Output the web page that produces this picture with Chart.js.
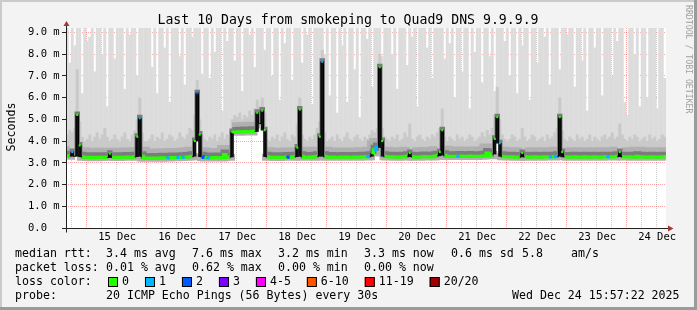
<!DOCTYPE html>
<html>
<head>
<meta charset="utf-8">
<title>Last 10 Days from smokeping to Quad9 DNS 9.9.9.9</title>
<script src="https://cdn.jsdelivr.net/npm/chart.js@4.4.1/dist/chart.umd.min.js"></script>
<style>
  html, body { margin: 0; padding: 0; background: #f3f3f3; }
</style>
</head>
<body>
<canvas id="smoke-chart" width="697" height="310"></canvas>
<script>
// one column per hour, graph starts Wed Dec 14 15:57:22 (10 days back)
const titleText = 'Last 10 Days from smokeping to Quad9 DNS 9.9.9.9';
const dayLabels = ['15 Dec', '16 Dec', '17 Dec', '18 Dec', '19 Dec', '20 Dec', '21 Dec', '22 Dec', '23 Dec', '24 Dec'];
const firstMidnight = 8 + 2 / 60 + 38 / 3600; // hours from graph start to 15 Dec 00:00

// median rtt in ms
const medianRtt = [
  3.3, 3.32, 3.5, 3.3, 5.2, 3.8, 3.28, 3.26,
  3.25, 3.24, 3.25, 3.23, 3.24, 3.25, 3.26, 3.25, 3.24, 3.42, 3.26, 3.25, 3.24, 3.25, 3.26, 3.25, 3.27, 3.26, 3.25, 3.28, 4.2, 5.05, 3.3, 3.22,
  3.21, 3.22, 3.21, 3.22, 3.22, 3.21, 3.23, 3.22, 3.22, 3.23, 3.24, 3.23, 3.24, 3.24, 3.25, 3.26, 3.27, 3.28, 3.3, 4.0, 6.2, 4.3, 3.28, 3.24,
  3.22, 3.23, 3.22, 3.24, 3.23, 3.22, 3.24, 3.38, 3.26, 3.27, 4.42, 4.42, 4.41, 4.43, 4.42, 4.44, 4.43, 4.42, 4.45, 4.44, 5.3, 4.8, 5.4, 4.5,
  3.28, 3.26, 3.25, 3.26, 3.24, 3.25, 3.26, 3.25, 3.27, 3.26, 3.27, 3.28, 3.7, 5.45, 3.3, 3.26, 3.25, 3.27, 3.26, 3.28, 3.3, 4.2, 7.65, 3.3,
  3.27, 3.26, 3.27, 3.26, 3.25, 3.26, 3.27, 3.26, 3.27, 3.26, 3.25, 3.27, 3.26, 3.27, 3.28, 3.27, 3.28, 3.3, 3.45, 3.6, 3.7, 7.4, 4.0, 3.3,
  3.28, 3.27, 3.28, 3.27, 3.26, 3.27, 3.28, 3.27, 3.3, 3.45, 3.28, 3.27, 3.26, 3.27, 3.28, 3.29, 3.28, 3.27, 3.28, 3.3, 3.32, 3.5, 4.5, 3.35,
  3.3, 3.29, 3.3, 3.29, 3.3, 3.31, 3.3, 3.29, 3.3, 3.31, 3.3, 3.29, 3.3, 3.3, 3.31, 3.32, 3.45, 3.32, 3.4, 4.1, 5.1, 3.9, 3.3, 3.28,
  3.28, 3.27, 3.28, 3.27, 3.26, 3.27, 3.45, 3.28, 3.27, 3.26, 3.27, 3.28, 3.27, 3.26, 3.27, 3.28, 3.27, 3.28, 3.27, 3.28, 3.3, 5.1, 3.5, 3.27,
  3.27, 3.26, 3.27, 3.28, 3.27, 3.26, 3.27, 3.28, 3.27, 3.26, 3.27, 3.28, 3.27, 3.26, 3.27, 3.28, 3.27, 3.28, 3.27, 3.28, 3.3, 3.5, 3.28, 3.27,
  3.27, 3.28, 3.27, 3.26, 3.3, 3.27, 3.28, 3.27, 3.26, 3.27, 3.28, 3.27, 3.26, 3.27, 3.28, 3.27
];

// upper edge of the denser smoke, ms
const midPing = [
  4.3, 4.5, 4.4, 4.6, 7.3, 4.9, 4.2, 4.0,
  4.1, 4.3, 4.0, 4.2, 4.4, 4.1, 4.3, 4.6, 4.2, 4.0, 4.1, 4.3, 4.1, 4.0, 4.2, 4.4, 4.1, 4.0, 4.3, 4.5, 5.0, 6.0, 4.4, 4.0,
  4.0, 4.1, 4.3, 4.0, 4.2, 4.1, 4.4, 4.0, 4.1, 4.3, 4.2, 4.0, 4.1, 4.4, 4.2, 4.1, 4.3, 4.6, 4.5, 5.2, 6.8, 5.0, 4.3, 4.1,
  4.0, 4.2, 4.1, 4.3, 4.0, 4.2, 4.4, 4.1, 4.3, 4.2, 5.0, 5.2, 5.1, 5.3, 5.0, 5.2, 5.1, 5.4, 5.2, 5.5, 5.9, 5.6, 6.0, 5.3,
  4.1, 4.0, 4.2, 4.1, 4.3, 4.0, 4.2, 4.4, 4.1, 4.0, 4.3, 4.2, 4.8, 6.0, 4.3, 4.1, 4.0, 4.2, 4.1, 4.3, 4.6, 4.9, 8.2, 4.4,
  4.0, 4.1, 4.2, 4.0, 4.3, 4.1, 4.0, 4.2, 4.4, 4.1, 4.0, 4.2, 4.3, 4.1, 4.0, 4.2, 4.1, 4.3, 4.5, 4.4, 4.6, 8.0, 4.6, 4.2,
  4.1, 4.0, 4.2, 4.1, 4.3, 4.0, 4.1, 4.4, 4.2, 4.8, 4.1, 4.0, 4.2, 4.3, 4.1, 4.0, 4.2, 4.1, 4.3, 4.2, 4.4, 4.6, 5.5, 4.2,
  4.0, 4.2, 4.1, 4.0, 4.3, 4.1, 4.2, 4.0, 4.1, 4.3, 4.2, 4.0, 4.1, 4.2, 4.4, 4.2, 4.5, 4.3, 4.6, 5.2, 6.5, 5.0, 4.3, 4.1,
  4.0, 4.1, 4.3, 4.2, 4.0, 4.1, 4.6, 4.2, 4.0, 4.1, 4.3, 4.2, 4.0, 4.1, 4.2, 4.0, 4.3, 4.1, 4.2, 4.4, 4.6, 6.0, 4.5, 4.1,
  4.0, 4.2, 4.1, 4.0, 4.3, 4.1, 4.2, 4.0, 4.1, 4.3, 4.0, 4.2, 4.1, 4.0, 4.2, 4.3, 4.1, 4.2, 4.4, 4.1, 4.2, 4.8, 4.3, 4.1,
  4.0, 4.2, 4.1, 4.3, 4.2, 4.0, 4.1, 4.2, 4.0, 4.3, 4.1, 4.2, 4.0, 4.1, 4.3, 4.2
];

// slowest ping per hour, ms (above 9.2 is off the graph)
const maxPing = [
  9.5, 7.6, 9.5, 8.4, 9.5, 9.5, 6.2, 9.5,
  8.6, 8.8, 9.5, 7.2, 9.5, 9.5, 8.0, 9.5, 5.6, 9.5, 9.5, 7.8, 9.5, 9.5, 9.5, 6.4, 9.5, 8.9, 9.5, 9.5, 7.0, 9.5, 9.5, 9.5,
  9.5, 9.5, 7.4, 9.5, 6.2, 9.5, 9.5, 8.3, 9.5, 5.8, 9.5, 9.5, 9.5, 7.9, 9.5, 6.6, 9.5, 9.5, 8.8, 9.5, 9.5, 9.5, 7.1, 9.5,
  9.5, 6.9, 9.5, 8.1, 9.5, 9.5, 5.4, 9.5, 8.6, 9.5, 9.5, 7.7, 9.5, 9.5, 6.3, 9.5, 9.5, 8.9, 9.5, 7.4, 9.5, 9.5, 9.5, 8.2,
  9.5, 9.5, 7.0, 9.5, 9.5, 5.9, 9.5, 8.5, 9.5, 9.5, 6.8, 9.5, 9.5, 9.5, 7.6, 9.5, 8.9, 9.5, 5.7, 9.5, 9.5, 9.5, 9.5, 8.0,
  9.5, 6.1, 9.5, 9.5, 5.3, 9.5, 8.4, 9.5, 5.8, 9.5, 9.5, 7.3, 9.5, 5.1, 9.5, 9.5, 8.7, 9.5, 6.5, 9.5, 9.5, 9.5, 7.9, 9.5,
  9.5, 9.5, 8.0, 9.5, 6.4, 9.5, 9.5, 9.5, 7.5, 9.5, 8.8, 9.5, 5.6, 9.5, 9.5, 9.5, 8.3, 9.5, 6.9, 9.5, 9.5, 9.5, 9.5, 7.8,
  9.5, 8.5, 9.5, 6.0, 9.5, 9.5, 7.2, 9.5, 9.5, 5.5, 9.5, 8.1, 9.5, 9.5, 6.7, 9.5, 9.5, 7.9, 9.5, 6.3, 9.5, 9.5, 9.5, 8.6,
  9.5, 7.0, 9.5, 9.5, 6.2, 9.5, 8.4, 9.5, 9.5, 5.9, 9.5, 9.5, 7.6, 9.5, 9.5, 8.8, 9.5, 6.6, 9.5, 9.5, 9.5, 7.3, 9.5, 9.5,
  8.9, 9.5, 9.5, 6.5, 9.5, 9.5, 7.7, 9.5, 5.4, 9.5, 9.5, 8.3, 9.5, 9.5, 6.1, 9.5, 9.5, 9.5, 7.0, 9.5, 8.6, 9.5, 9.5, 5.8,
  5.2, 9.5, 9.5, 8.0, 9.5, 5.6, 9.5, 9.5, 6.0, 9.5, 9.5, 9.5, 5.5, 9.5, 9.5, 6.9
];

// hours with lost pings and how many of the 20 were lost
const lossHours = [2, 29, 40, 44, 46, 52, 54, 56, 88, 102, 120, 123, 124, 156, 173, 193, 195, 216];
const lossCounts = [1, 1, 1, 1, 1, 2, 2, 1, 2, 1, 1, 1, 1, 1, 1, 1, 1, 1];

const lossLabels = ['0', '1', '2', '3', '4-5', '6-10', '11-19', '20/20'];
const lossColors = ['#26ff00', '#00b8ff', '#0059ff', '#7e00ff', '#ff00ff', '#ff5500', '#ff0000', '#a10000'];

const rttStats = ['3.4 ms avg', '7.6 ms max', '3.2 ms min', '3.3 ms now', '0.6 ms sd', '5.8', 'am/s'];
const lossStats = ['0.01 % avg', '0.62 % max', '0.00 % min', '0.00 % now'];
const probeText = '20 ICMP Echo Pings (56 Bytes) every 30s';
const stampText = 'Wed Dec 24 15:57:22 2025';

const lostPerHour = medianRtt.map(() => 0);
lossHours.forEach((h, k) => { lostPerHour[h] = lossCounts[k]; });

function lossLevel(n) {
  if (n <= 3) return n;
  if (n <= 5) return 4;
  if (n <= 10) return 5;
  if (n < 20) return 6;
  return 7;
}

// lowest neighbouring median, used for the dense smoke under a jump
const neighbourLow = medianRtt.map((v, i) => Math.min(v, medianRtt[i - 1] ?? v, medianRtt[i + 1] ?? v));
const isSpike = i => medianRtt[i] - neighbourLow[i] > 0.15;

const steep = c => Math.abs(c.p1.parsed.y - c.p0.parsed.y) > 0.15;
const mono = "'DejaVu Sans Mono', monospace";

const rrdLook = {
  id: 'rrdLook',
  beforeDraw(chart) {
    const { ctx, chartArea: a, width, height } = chart;
    ctx.save();
    ctx.fillStyle = '#f3f3f3';
    ctx.fillRect(0, 0, width, height);
    ctx.fillStyle = '#ffffff';
    ctx.fillRect(a.left, a.top, a.right - a.left, a.bottom - a.top);
    ctx.restore();
  },
  beforeDatasetDraw(chart, args) {
    const lift = chart.data.datasets[args.index].lift;
    if (lift) {
      chart.ctx.save();
      chart.ctx.translate(0, -lift);
    }
  },
  afterDatasetDraw(chart, args) {
    if (chart.data.datasets[args.index].lift) chart.ctx.restore();
  },
  afterDraw(chart) {
    const { ctx, chartArea: a, width, height } = chart;
    const x0 = Math.round(a.left) + 0.5;
    const y0 = Math.round(a.bottom) + 0.5;
    ctx.save();

    // axes with arrows
    ctx.strokeStyle = '#222';
    ctx.lineWidth = 1;
    ctx.beginPath();
    ctx.moveTo(x0 - 4, y0); ctx.lineTo(a.right + 4, y0);
    ctx.moveTo(x0, y0 + 4); ctx.lineTo(x0, a.top - 4);
    ctx.stroke();
    ctx.fillStyle = '#a33';
    ctx.beginPath();
    ctx.moveTo(x0, a.top - 7); ctx.lineTo(x0 - 3, a.top - 2); ctx.lineTo(x0 + 3, a.top - 2);
    ctx.closePath(); ctx.fill();
    ctx.beginPath();
    ctx.moveTo(a.right + 7.5, y0); ctx.lineTo(a.right + 2, y0 - 3); ctx.lineTo(a.right + 2, y0 + 3);
    ctx.closePath(); ctx.fill();

    // title
    ctx.fillStyle = '#000';
    ctx.font = '13.2px ' + mono;
    ctx.textAlign = 'center';
    ctx.textBaseline = 'alphabetic';
    ctx.fillText(titleText, 348, 24);

    // unit
    ctx.save();
    ctx.translate(15, 127);
    ctx.rotate(-Math.PI / 2);
    ctx.font = '11.6px ' + mono;
    ctx.fillText('Seconds', 0, 0);
    ctx.restore();

    // watermark
    ctx.save();
    ctx.translate(688, 5);
    ctx.rotate(Math.PI / 2);
    ctx.font = '8.2px ' + mono;
    ctx.fillStyle = '#a0a0a0';
    ctx.textAlign = 'left';
    ctx.textBaseline = 'middle';
    ctx.fillText('RRDTOOL / TOBI OETIKER', 0, 0);
    ctx.restore();

    // legend block
    ctx.font = '11.6px ' + mono;
    ctx.textAlign = 'left';
    const statX = [106, 192, 278, 364, 451, 522, 571];
    ctx.fillText('median rtt:', 15, 257);
    rttStats.forEach((s, i) => ctx.fillText(s, statX[i], 257));
    ctx.fillText('packet loss:', 15, 271);
    lossStats.forEach((s, i) => ctx.fillText(s, statX[i], 271));
    ctx.fillText('loss color:', 15, 285);
    let x = 108;
    lossLabels.forEach((lab, i) => {
      ctx.fillStyle = lossColors[i];
      ctx.fillRect(x, 277, 10, 10);
      ctx.strokeStyle = '#000';
      ctx.strokeRect(x + 0.5, 277.5, 9, 9);
      ctx.fillStyle = '#000';
      ctx.fillText(lab, x + 14, 285);
      x += 15 + ctx.measureText(lab).width + 15;
    });
    ctx.fillText('probe:', 15, 299);
    ctx.fillText(probeText, 106, 299);
    ctx.fillText(stampText, 512, 299);

    // frame
    ctx.fillStyle = '#cbcbcb';
    ctx.fillRect(0, 0, width, 2);
    ctx.fillRect(0, 0, 2, height);
    ctx.fillStyle = '#9b9b9b';
    ctx.fillRect(0, height - 3, width, 3);
    ctx.fillRect(width - 3, 0, 3, height);
    ctx.restore();
  }
};

const hourX = i => i + 0.5;
const medianPoints = medianRtt.map((v, i) => ({ x: hourX(i), y: v }));
const spikeBars = medianRtt
  .map((v, i) => (isSpike(i) ? { x: hourX(i), y: [neighbourLow[i], v] } : null))
  .filter(Boolean);

new Chart(document.getElementById('smoke-chart'), {
  type: 'bar',
  data: {
    datasets: [
      {
        type: 'line',
        data: medianPoints,
        stepped: 'middle',
        borderWidth: 3,
        borderColor: lossColors[0],
        pointStyle: 'rect',
        pointRadius: c => (lostPerHour[c.dataIndex] || isSpike(c.dataIndex) ? 1.5 : 0),
        pointBorderWidth: 0,
        pointBackgroundColor: c => lossColors[lossLevel(lostPerHour[c.dataIndex])],
        segment: {
          borderColor: c => (steep(c) ? '#000' : lossColors[lossLevel(lostPerHour[c.p0DataIndex])]),
          borderWidth: c => (steep(c) ? 1 : 3)
        },
        order: 0
      },
      {
        data: spikeBars,
        backgroundColor: '#111',
        borderWidth: 0,
        grouped: false,
        barPercentage: 1,
        categoryPercentage: 1,
        order: 1
      },
      {
        type: 'line',
        data: medianPoints,
        stepped: 'middle',
        borderWidth: 6,
        borderColor: '#7c7c7c',
        pointRadius: 0,
        lift: 2,
        segment: { borderWidth: c => (steep(c) ? 3 : 6) },
        order: 2
      },
      {
        type: 'line',
        data: medianPoints,
        stepped: 'middle',
        borderWidth: 13,
        borderColor: '#b0b0b0',
        pointRadius: 0,
        lift: 3,
        segment: { borderColor: c => (steep(c) ? 'rgba(0, 0, 0, 0)' : '#b0b0b0') },
        order: 3
      },
      {
        data: medianRtt.map((v, i) => ({ x: hourX(i), y: [v, midPing[i]] })),
        backgroundColor: '#c9c9c9',
        borderWidth: 0,
        grouped: false,
        barPercentage: 1.2,
        categoryPercentage: 1,
        order: 4
      },
      {
        data: medianRtt.map((v, i) => ({ x: hourX(i), y: [v, maxPing[i]] })),
        backgroundColor: '#dcdcdc',
        borderWidth: 0,
        grouped: false,
        barPercentage: 1.2,
        categoryPercentage: 1,
        order: 5
      }
    ]
  },
  options: {
    responsive: false,
    animation: false,
    devicePixelRatio: 1,
    layout: { padding: { left: 28, right: 31, top: 28, bottom: 0 } },
    font: { family: mono },
    scales: {
      x: {
        type: 'linear',
        min: 0,
        max: medianRtt.length,
        offset: false,
        z: 1,
        afterBuildTicks: axis => {
          const ticks = [];
          for (let v = firstMidnight - 6; v <= medianRtt.length; v += 6) ticks.push({ value: v });
          axis.ticks = ticks;
        },
        afterFit: scale => {
          scale.height = 82;
          scale.paddingLeft = 0;
          scale.paddingRight = 0;
        },
        grid: {
          offset: false,
          drawTicks: false,
          lineWidth: 1,
          color: c => {
            const h = (((c.tick.value - firstMidnight) % 24) + 24) % 24;
            return h < 0.01 || h > 23.99 ? 'rgba(255, 0, 0, 0.35)' : 'rgba(128, 128, 128, 0.4)';
          }
        },
        border: { display: false, dash: [1, 1] },
        ticks: {
          autoSkip: false,
          maxRotation: 0,
          padding: 3,
          labelOffset: 1,
          color: '#000',
          font: { family: mono, size: 10.5 },
          callback: v => {
            const d = Math.round((v - firstMidnight - 12) / 24);
            return Math.abs(v - (firstMidnight + 12 + 24 * d)) < 0.01 && dayLabels[d] ? dayLabels[d] : '';
          }
        }
      },
      y: {
        min: 0,
        max: 9.2,
        z: 1,
        afterBuildTicks: axis => {
          const ticks = [];
          for (let k = 0; k <= 18; k++) ticks.push({ value: k / 2 });
          axis.ticks = ticks;
        },
        afterFit: scale => {
          scale.width = 38;
          scale.paddingTop = 0;
          scale.paddingBottom = 0;
        },
        grid: {
          lineWidth: 1,
          tickLength: 4,
          color: c => (Number.isInteger(c.tick.value) ? 'rgba(255, 0, 0, 0.35)' : 'rgba(128, 128, 128, 0.4)'),
          tickColor: c => (Number.isInteger(c.tick.value) ? '#222' : 'rgba(0, 0, 0, 0)')
        },
        border: { display: false, dash: [1, 1] },
        ticks: {
          crossAlign: 'far',
          color: '#000',
          font: { family: mono, size: 10.5 },
          callback: v => (Number.isInteger(v) ? (v === 0 ? '0.0' : v.toFixed(1) + ' m') : '')
        }
      }
    },
    plugins: {
      legend: { display: false },
      tooltip: { enabled: false },
      title: { display: false }
    }
  },
  plugins: [rrdLook]
});
</script>
</body>
</html>
